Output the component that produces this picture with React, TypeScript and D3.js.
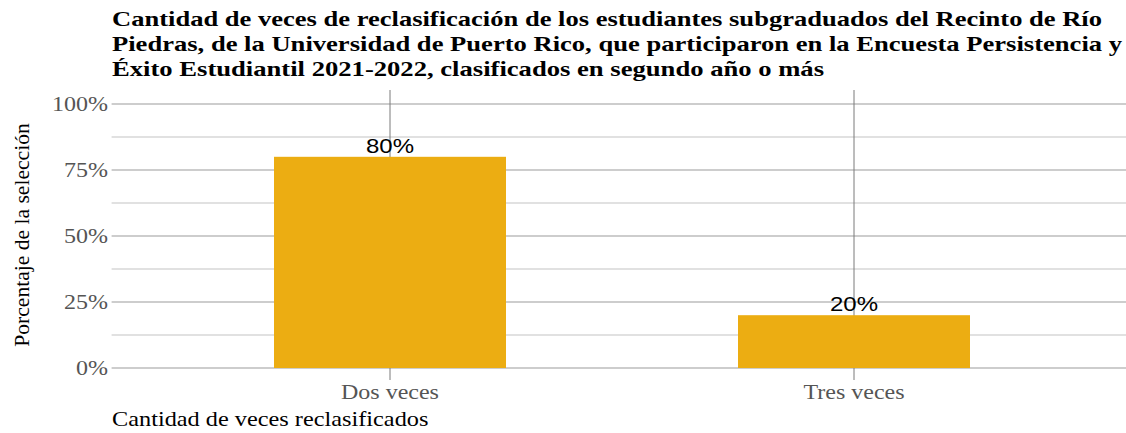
import React from "react";
import * as d3 from "d3";

const categories = ["Dos veces", "Tres veces"];
const values = [0.8, 0.2];
const labels = ["80%", "20%"];
const yTicks = [0, 0.25, 0.5, 0.75, 1];
const yMinor = [0.125, 0.375, 0.625, 0.875];
const titleLines = [
  "Cantidad de veces de reclasificación de los estudiantes subgraduados del Recinto de Río",
  "Piedras, de la Universidad de Puerto Rico, que participaron en la Encuesta Persistencia y",
  "Éxito Estudiantil 2021-2022, clasificados en segundo año o más",
];
const titleWidths = [990, 1010, 712];

const W = 1126;
const H = 433;
const left = 111.6;
const right = 1132.4;
const top = 90;
const bottom = 368;
const SX = 1.2;

export default function App() {
  const x = d3.scaleBand<string>().domain(categories).range([left, right]).paddingInner(0).paddingOuter(0.1);
  const y = d3.scaleLinear().domain([0, 1]).range([bottom, 104]);
  const bw = x.bandwidth() * 0.5;
  const serif = "'Liberation Serif', 'Times New Roman', serif";
  const sans = "'Liberation Sans', Arial, sans-serif";
  const pct = d3.format(".0%");
  return (
    <svg width={W} height={H} style={{ position: "absolute", left: 0, top: 0, background: "#fff" }}>
      {titleLines.map((t, i) => (
        <text
          key={i}
          x={112}
          y={26 + i * 25}
          fontFamily={serif}
          fontWeight="bold"
          fontSize={22}
          fill="#000"
          textLength={titleWidths[i]}
          lengthAdjust="spacingAndGlyphs"
        >
          {t}
        </text>
      ))}
      {yMinor.map((v) => (
        <line key={"m" + v} x1={left} x2={W} y1={y(v)} y2={y(v)} stroke="#c4c4c4" strokeWidth={1.1} />
      ))}
      {yTicks.map((v) => (
        <line key={"g" + v} x1={left} x2={W} y1={y(v)} y2={y(v)} stroke="#bdbdbd" strokeWidth={1.3} />
      ))}
      {categories.map((c) => {
        const cx = (x(c) as number) + x.bandwidth() / 2;
        return <line key={"v" + c} x1={cx} x2={cx} y1={top} y2={380} stroke="#7a7a7a" strokeWidth={1} />;
      })}
      {categories.map((c, i) => {
        const cx = (x(c) as number) + x.bandwidth() / 2;
        return (
          <g key={"b" + c}>
            <rect x={cx - bw / 2} y={y(values[i])} width={bw} height={y(0) - y(values[i])} fill="#ECAD12" />
            <g transform={`translate(${cx}, ${y(values[i]) - 4}) scale(${SX},1)`}>
              <text textAnchor="middle" fontFamily={sans} fontSize={20} fill="#000">
                {labels[i]}
              </text>
            </g>
            <g transform={`translate(${cx}, 399) scale(${SX},1)`}>
              <text textAnchor="middle" fontFamily={serif} fontSize={20} fill="#555">
                {c}
              </text>
            </g>
          </g>
        );
      })}
      {yTicks.map((v) => (
        <g key={"t" + v} transform={`translate(108, ${y(v) + 7}) scale(${SX},1)`}>
          <text textAnchor="end" fontFamily={serif} fontSize={20} fill="#555">
            {pct(v)}
          </text>
        </g>
      ))}
      <g transform={`translate(29, ${(top + bottom) / 2 + 6}) rotate(-90) scale(1.08,1)`}>
        <text textAnchor="middle" fontFamily={serif} fontSize={20} fill="#000">
          Porcentaje de la selección
        </text>
      </g>
      <g transform={`translate(112, 426) scale(1.215,1)`}>
        <text fontFamily={serif} fontSize={20} fill="#000">
          Cantidad de veces reclasificados
        </text>
      </g>
    </svg>
  );
}
